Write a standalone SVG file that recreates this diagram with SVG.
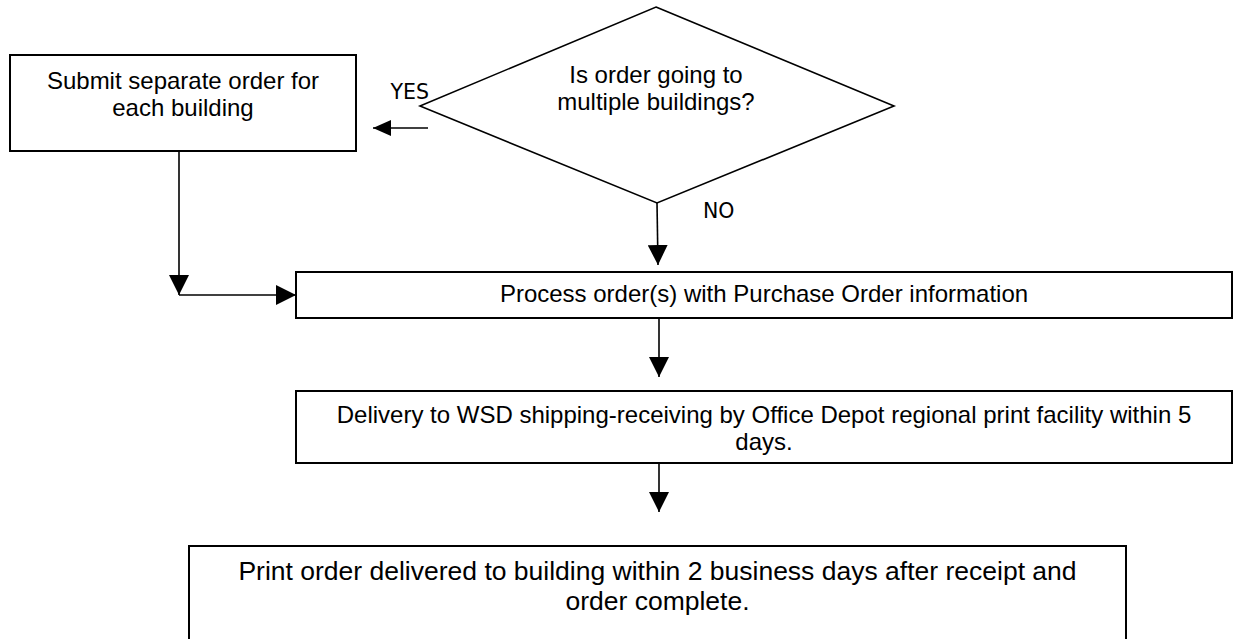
<svg xmlns="http://www.w3.org/2000/svg" width="1235" height="639" viewBox="0 0 1235 639">
  <style>
    .box { fill: #ffffff; stroke: #000000; stroke-width: 2; }
    .dia { fill: #ffffff; stroke: #000000; stroke-width: 1.6; }
    .t { font-family: "Liberation Sans", Arial, sans-serif; font-size: 24px; fill: #000000; text-anchor: middle; }
    .tb { font-family: "Liberation Sans", Arial, sans-serif; font-size: 26.5px; fill: #000000; text-anchor: middle; }
    .lbl { font-family: "DejaVu Sans", Verdana, sans-serif; font-size: 20.5px; fill: #000000; }
    .c { fill: none; stroke: #000000; stroke-width: 1.6; }
  </style>
  <defs>
    <marker id="ah" markerUnits="userSpaceOnUse" markerWidth="20" markerHeight="20" viewBox="0 0 20 20" refX="20" refY="10" orient="auto">
      <path d="M0,0 L20,10 L0,20 Z" fill="#000000"/>
    </marker>
    <marker id="ahs" markerUnits="userSpaceOnUse" markerWidth="18" markerHeight="16" viewBox="0 0 18 16" refX="18" refY="8" orient="auto">
      <path d="M0,0 L18,8 L0,16 Z" fill="#000000"/>
    </marker>
  </defs>

  <g id="node-submit">
    <rect class="box" x="10" y="55" width="346" height="96"/>
    <text class="t" x="183" y="89">Submit separate order for</text>
    <text class="t" x="183" y="116">each building</text>
  </g>

  <g id="node-decision">
    <polygon class="dia" points="656,7 894,106 657,203 420,106"/>
    <text class="t" x="656" y="83">Is order going to</text>
    <text class="t" x="656" y="110">multiple buildings?</text>
  </g>

  <g id="node-process">
    <rect class="box" x="296" y="272" width="936" height="46"/>
    <text class="t" x="764" y="302">Process order(s) with Purchase Order information</text>
  </g>

  <g id="node-delivery">
    <rect class="box" x="296" y="391" width="936" height="72"/>
    <text class="t" x="764" y="423">Delivery to WSD shipping-receiving by Office Depot regional print facility within 5</text>
    <text class="t" x="764" y="450">days.</text>
  </g>

  <g id="node-final">
    <rect class="box" x="189" y="546" width="937" height="110"/>
    <text class="tb" x="657.5" y="580">Print order delivered to building within 2 business days after receipt and</text>
    <text class="tb" x="657.5" y="610">order complete.</text>
  </g>

  <g id="connectors">
    <line class="c" x1="428" y1="128" x2="373" y2="128" marker-end="url(#ahs)"/>
    <text class="lbl" x="429" y="99" text-anchor="end">YES</text>
    <line class="c" x1="657" y1="203" x2="658" y2="265" marker-end="url(#ah)"/>
    <text class="lbl" x="703" y="218">NO</text>
    <line class="c" x1="179" y1="151" x2="179" y2="295" marker-end="url(#ah)"/>
    <line class="c" x1="179" y1="295" x2="296" y2="295" marker-end="url(#ah)"/>
    <line class="c" x1="659" y1="318" x2="659" y2="377" marker-end="url(#ah)"/>
    <line class="c" x1="659" y1="463" x2="659" y2="512" marker-end="url(#ah)"/>
  </g>
</svg>
